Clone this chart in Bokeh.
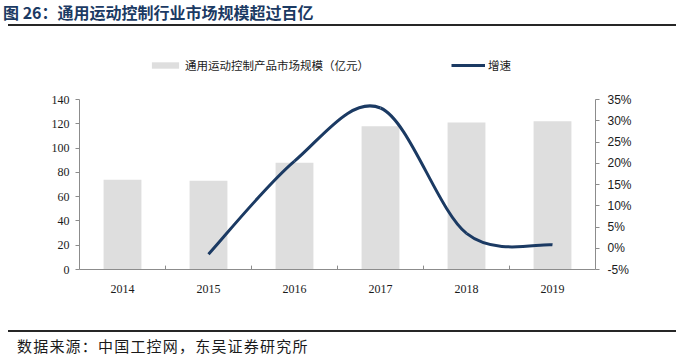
from bokeh.plotting import figure
from bokeh.layouts import column
from bokeh.models import (Range1d, FactorRange, LinearAxis, FixedTicker, Legend, LegendItem, Div)
from bokeh.embed import file_html
from bokeh.resources import INLINE

years = ["2014", "2015", "2016", "2017", "2018", "2019"]
market_size = [74, 73, 88, 118, 121, 122]          # 亿元
growth_years = ["2015", "2016", "2017", "2018", "2019"]
growth = [-1.4, 20.5, 33.0, 3.5, 0.8]               # %
left_ticks = [0, 20, 40, 60, 80, 100, 120, 140]
right_ticks = [-5, 0, 5, 10, 15, 20, 25, 30, 35]

title_text = "图 26：通用运动控制行业市场规模超过百亿"
source_text = "数据来源：中国工控网，东吴证券研究所"
bar_label = "通用运动控制产品市场规模（亿元）"
line_label = "增速"

W = 676
NAVY = "#1B3A63"
BAR = "#DEDEDE"
AXIS = "#8C8C8C"
CJK = "Noto Sans CJK SC"
FL, FR = 79, 81   # frame borders
NAN = float("nan")

# ---- header (HTML) ----
header = Div(width=W, height=30, margin=0, text=(
    '<div style="position:relative;width:676px;height:30px;margin:0;padding:0;">'
    f'<span style="position:absolute;left:3px;top:2px;font-family:\'{CJK}\';font-weight:bold;'
    f'font-size:16px;line-height:20px;color:{NAVY};white-space:nowrap;">{title_text}</span>'
    '<div style="position:absolute;left:8px;width:668px;top:24px;height:2px;background:#262626;"></div>'
    '</div>'))

# ---- legend strip ----
LEG_H = 55
leg = figure(width=W, height=LEG_H, x_range=Range1d(0, 1), y_range=Range1d(0, 1),
             output_backend="svg", toolbar_location=None,
             x_axis_location=None, y_axis_location=None,
             min_border_left=FL, min_border_right=FR, min_border_top=0, min_border_bottom=0)
leg.outline_line_color = None
leg.xgrid.visible = False
leg.ygrid.visible = False
# legend swatches only (no data drawn here)
bar_proxy = leg.vbar(x=[NAN], top=[NAN], width=0.4, fill_color=BAR, line_color=None)
line_proxy = leg.line(x=[NAN], y=[NAN], line_color=NAVY, line_width=3)
legend = Legend(items=[LegendItem(label=bar_label, renderers=[bar_proxy]),
                       LegendItem(label=line_label, renderers=[line_proxy])],
                orientation="horizontal", location=(69, 12),
                glyph_width=34, glyph_height=8, label_height=12, label_standoff=3,
                spacing=82, padding=0, margin=0,
                label_text_font=CJK, label_text_font_size="11.5px", label_text_color="#1a1a1a",
                border_line_color=None, background_fill_alpha=0)
leg.add_layout(legend, "center")

# ---- main chart ----
MAIN_H = 241
p = figure(width=W, height=MAIN_H, x_range=FactorRange(*years), y_range=Range1d(0, 140),
           output_backend="svg", toolbar_location=None,
           min_border_left=FL, min_border_right=FR, min_border_top=14, min_border_bottom=57)
p.extra_y_ranges = {"pct": Range1d(-5, 35)}
p.outline_line_color = None
p.xgrid.visible = False
p.ygrid.visible = False

bars = p.vbar(x=years, top=market_size, width=0.44, fill_color=BAR, line_color=None)

# category boundary ticks on the x axis (Excel style)
nb = len(years)
p.segment(x0=list(range(1, nb)), y0=[0] * (nb - 1), x1=list(range(1, nb)), y1=[3.2] * (nb - 1),
          line_color=AXIS, line_width=1)

# smoothed growth line (Catmull-Rom -> cubic Bezier through the data points)
gx = [years.index(y) + 0.5 for y in growth_years]
gy = growth
n = len(gx)
x0s, y0s, x1s, y1s, cx0, cy0, cx1, cy1 = [], [], [], [], [], [], [], []
for i in range(n - 1):
    pm = i - 1 if i > 0 else i
    pp = i + 2 if i + 2 < n else i + 1
    x0s.append(gx[i]); y0s.append(gy[i]); x1s.append(gx[i + 1]); y1s.append(gy[i + 1])
    cx0.append(gx[i] + (gx[i + 1] - gx[pm]) / 6); cy0.append(gy[i] + (gy[i + 1] - gy[pm]) / 6)
    cx1.append(gx[i + 1] - (gx[pp] - gx[i]) / 6); cy1.append(gy[i + 1] - (gy[pp] - gy[i]) / 6)
p.bezier(x0=x0s, y0=y0s, x1=x1s, y1=y1s, cx0=cx0, cy0=cy0, cx1=cx1, cy1=cy1,
         line_color=NAVY, line_width=3, y_range_name="pct")

# left axis
ya = p.yaxis[0]
ya.ticker = FixedTicker(ticks=left_ticks)
ya.axis_line_color = AXIS
ya.major_tick_line_color = AXIS
ya.major_tick_out = 4
ya.major_tick_in = 0
ya.minor_tick_line_color = None
ya.major_label_text_font = "Liberation Serif"
ya.major_label_text_font_size = "12px"
ya.major_label_text_color = "#1a1a1a"
ya.major_label_standoff = 6

# right axis
ra = LinearAxis(y_range_name="pct", ticker=FixedTicker(ticks=right_ticks),
                major_label_overrides={t: f"{t}%" for t in right_ticks})
ra.axis_line_color = AXIS
ra.major_tick_line_color = AXIS
ra.major_tick_out = 4
ra.major_tick_in = 0
ra.minor_tick_line_color = None
ra.major_label_text_font = "Liberation Sans"
ra.major_label_text_font_size = "12px"
ra.major_label_text_color = "#1a1a1a"
ra.major_label_standoff = 8
p.add_layout(ra, "right")

# x axis
xa = p.xaxis[0]
xa.axis_line_color = AXIS
xa.major_tick_line_color = None
xa.minor_tick_line_color = None
xa.major_label_text_font = "Liberation Serif"
xa.major_label_text_font_size = "12px"
xa.major_label_text_color = "#1a1a1a"
xa.major_label_standoff = 9

# ---- footer (HTML) ----
footer = Div(width=W, height=30, margin=0, text=(
    '<div style="position:relative;width:676px;height:30px;margin:0;padding:0;">'
    '<div style="position:absolute;left:8px;width:668px;top:4px;height:2px;background:#262626;"></div>'
    f'<span style="position:absolute;left:17px;top:11px;font-family:\'{CJK}\';font-size:15px;'
    f'letter-spacing:1.2px;line-height:18px;color:#1a1a1a;white-space:nowrap;">{source_text}</span>'
    '</div>'))

layout = column(header, leg, p, footer, spacing=0)
open("out.html", "w").write(file_html(layout, INLINE))
